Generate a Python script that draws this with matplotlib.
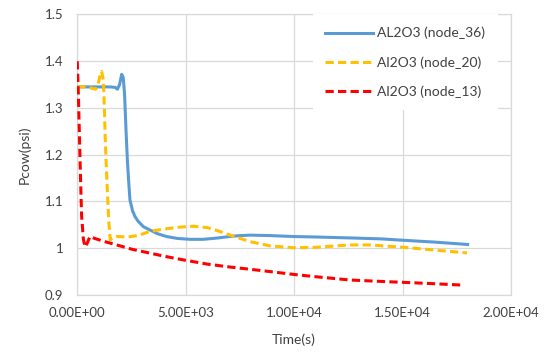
import matplotlib
matplotlib.use("Agg")
import matplotlib.pyplot as plt

plt.rcParams['font.family'] = ['Lato', 'DejaVu Sans']

# node_36 (blue, solid)
t36 = [0, 500, 1000, 1500, 1750, 1850, 1950, 2050, 2120, 2180, 2250, 2310, 2360, 2430, 2550,
       2660, 2800, 3050, 3350, 3700, 4120, 4600, 5200, 5800, 6500, 7200, 7970, 8900, 9970,
       11000, 12580, 14000, 15040, 16500, 18000]
v36 = [1.345, 1.345, 1.345, 1.345, 1.344, 1.340, 1.350, 1.372, 1.365, 1.33, 1.25, 1.189, 1.15,
       1.103, 1.08, 1.068, 1.058, 1.046, 1.039, 1.031, 1.025, 1.021, 1.019, 1.019, 1.022, 1.026,
       1.028, 1.027, 1.025, 1.024, 1.022, 1.020, 1.017, 1.013, 1.008]

# node_20 (orange, dashed)
t20 = [0, 300, 600, 850, 950, 1050, 1125, 1200, 1250, 1300, 1380, 1450, 1520, 1650, 1820, 2300,
       2800, 3350, 4000, 4700, 5350, 6000, 6500, 7050, 7970, 8890, 9970, 11000, 12580, 13500,
       15040, 16500, 17970]
v20 = [1.345, 1.345, 1.343, 1.340, 1.348, 1.37, 1.378, 1.36, 1.30, 1.22, 1.13, 1.06, 1.018, 1.022,
       1.025, 1.024, 1.027, 1.036, 1.041, 1.045, 1.047, 1.044, 1.037, 1.028, 1.014, 1.005, 1.001,
       1.002, 1.007, 1.007, 1.002, 0.996, 0.990]

# node_13 (red, dashed)
t13 = [0, 50, 100, 150, 200, 280, 355, 450, 585, 800, 1200, 1820, 2500, 3300, 4000, 4890, 6000,
       7000, 7970, 8890, 9970, 11000, 12580, 14000, 15040, 16500, 17810]
v13 = [1.40, 1.33, 1.24, 1.15, 1.07, 1.02, 1.003, 1.010, 1.025, 1.021, 1.015, 1.007, 0.998, 0.990,
       0.983, 0.975, 0.966, 0.960, 0.955, 0.950, 0.944, 0.939, 0.932, 0.929, 0.927, 0.924, 0.921]

xticks = [0, 5000, 10000, 15000, 20000]
xtick_labels = ["0.00E+00", "5.00E+03", "1.00E+04", "1.50E+04", "2.00E+04"]
yticks = [0.9, 1.0, 1.1, 1.2, 1.3, 1.4, 1.5]
ytick_labels = ["0.9", "1", "1.1", "1.2", "1.3", "1.4", "1.5"]

fig = plt.figure(figsize=(5.48, 3.52), dpi=100)
ax = fig.add_axes([0.141, 0.162, 0.7915, 0.797])

grid_c = '#D9D9D9'
ax.plot(t36, v36, color='#5B9BD5', lw=2.2, label='AL2O3 (node_36)', zorder=3)
ax.plot(t20, v20, color='#FFC000', lw=2.2, dashes=(2.7, 1.4), label='Al2O3 (node_20)', zorder=3)
ax.plot(t13, v13, color='#FF0000', lw=2.2, dashes=(2.7, 1.4), label='Al2O3 (node_13)', zorder=3)

ax.set_xlim(0, 20000)
ax.set_ylim(0.9, 1.5)
ax.set_xticks(xticks)
ax.set_xticklabels(xtick_labels)
ax.set_yticks(yticks)
ax.set_yticklabels(ytick_labels)
ax.grid(True, color=grid_c, lw=0.9)
ax.set_axisbelow(True)
for s in ax.spines.values():
    s.set_color(grid_c)
    s.set_linewidth(0.9)
ax.tick_params(axis='y', length=0, labelsize=9.5, colors='#404040', pad=10)
ax.tick_params(axis='x', length=0, labelsize=9.5, colors='#404040', pad=9)

ax.set_xlabel('Time(s)', fontsize=10, color='#404040', labelpad=10)
ax.set_ylabel('Pcow(psi)', fontsize=10, color='#404040', labelpad=10)

leg = ax.legend(loc='upper right', bbox_to_anchor=(0.970, 1.0), borderaxespad=0,
                fontsize=10, handlelength=3.4, handletextpad=0.35, labelspacing=1.2,
                borderpad=0.9, frameon=True, fancybox=False, edgecolor='none',
                facecolor='white', framealpha=1)
for txt in leg.get_texts():
    txt.set_color('#404040')

fig.savefig('out.png', dpi=100)
